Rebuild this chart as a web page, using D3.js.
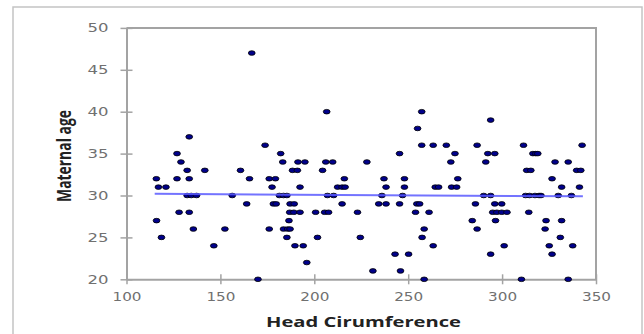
<!DOCTYPE html>
<html>
<head>
<meta charset="utf-8">
<script src="https://cdn.jsdelivr.net/npm/d3@7"></script>
<style>
  body { margin: 0; background: #fff; }
  svg { display: block; }
</style>
</head>
<body>
<svg id="chart" width="644" height="334"></svg>
<script>
// head circumference (x) and maternal age (y)
const headCirc = [
  115.9, 117, 121, 116, 118.6, 126.9, 129, 126.9, 128, 133.4, 132.3, 133.4, 132.3, 134.5, 137.3,
  133.4, 135.6, 141.7, 146.5, 152.4, 156.3, 160.7, 165.5, 164, 166.7, 170, 173.8, 176, 176, 177.5,
  179.3, 178.2, 179.7, 182.1, 183.2, 181.4, 183.6, 185.4, 183.6, 185.8, 187.1, 185.4, 186.5, 186.9,
  187.1, 189.3, 189.1, 188.4, 191.3, 191, 192.4, 192.4, 189.7, 194.1, 195, 196, 200.7, 201.7, 204.4,
  206.6, 206.1, 207, 205.5, 207.6, 209.8, 210.3, 212.4, 216, 214.8, 216.4, 214.8, 223, 224.5, 228,
  231.2, 234.3, 236, 237.1, 238.2, 238.2, 243, 245.4, 245.4, 245.9, 247, 248, 248, 250.2, 255,
  253.9, 254.6, 256.1, 257.2, 257.2, 257.4, 258.5, 258.5, 261.1, 263.3, 263.3, 264.4, 266.2, 270.3,
  272.7, 273.1, 274.9, 275.8, 276.4, 284.1, 285.8, 286.7, 286.7, 291.3, 290.2, 292.4, 293.9, 293.9,
  293.9, 295, 296.1, 296.1, 296.5, 297.2, 299.8, 299.8, 301.1, 302.6, 310.3, 311.4, 312.5, 313.1,
  315.3, 314.2, 314.6, 316.4, 317.9, 319, 317.5, 319.7, 320.7, 323.4, 322.9, 325.1, 326.6, 326.6,
  328.2, 329.9, 331, 331.7, 331.7, 335.2, 335.2, 336.9, 337.6, 339.7, 341.2, 341.9, 342.6
];
const maternalAge = [
  32, 31, 31, 27, 25, 35, 34, 32, 28, 37, 33, 32, 30, 30, 30,
  28, 26, 33, 24, 26, 30, 33, 32, 29, 47, 20, 36, 26, 32, 31,
  32, 29, 29, 35, 34, 30, 30, 30, 26, 26, 26, 25, 27, 28,
  29, 29, 28, 33, 34, 33, 31, 28, 24, 24, 34, 22, 28, 25, 33,
  40, 34, 30, 28, 28, 34, 30, 31, 32, 31, 31, 29, 28, 25, 34,
  21, 29, 30, 32, 31, 29, 23, 35, 29, 21, 30, 32, 31, 23, 38,
  28, 29, 29, 40, 36, 25, 26, 20, 28, 24, 36, 31, 31, 36,
  34, 31, 35, 31, 32, 27, 29, 36, 26, 34, 30, 35, 39, 30,
  23, 28, 35, 29, 27, 28, 29, 28, 24, 28, 20, 36, 30, 33,
  33, 28, 30, 35, 35, 35, 30, 30, 30, 27, 26, 24, 23, 32,
  34, 30, 25, 31, 27, 20, 34, 30, 24, 33, 31, 33, 36
];
// linear trendline end points
const trendX = [115, 343];
const trendY = [30.2, 29.9];

const xTicks = [100, 150, 200, 250, 300, 350];
const yTicks = [20, 25, 30, 35, 40, 45, 50];

const svg = d3.select("#chart");

// outer chart border
svg.append("rect")
  .attr("x", 13).attr("y", 7)
  .attr("width", 629).attr("height", 340)
  .attr("fill", "none")
  .attr("stroke", "#c4c4c4")
  .attr("stroke-width", 1.5);

const x = d3.scaleLinear().domain([100, 350]).range([126.5, 596]);
const y = d3.scaleLinear().domain([20, 50]).range([279.3, 27.9]);

// plot area frame (top and right)
svg.append("path")
  .attr("d", "M" + x(100) + "," + y(50) + "H" + x(350) + "V" + y(20))
  .attr("fill", "none")
  .attr("stroke", "#a3a3a3")
  .attr("stroke-width", 2);

// Y axis
const gy = svg.append("g")
  .attr("transform", "translate(" + x(100) + ",0)")
  .call(d3.axisLeft(y).tickValues(yTicks).tickSizeOuter(0));
gy.select(".domain").attr("stroke", "#a3a3a3").attr("stroke-width", 2);
gy.selectAll(".tick line").attr("x1", -6).attr("x2", 6)
  .attr("stroke", "#a3a3a3").attr("stroke-width", 1.5);
gy.selectAll(".tick text")
  .attr("x", -18)
  .attr("font-family", "DejaVu Sans")
  .attr("font-size", 12)
  .attr("fill", "#707070")
  .attr("textLength", 21)
  .attr("lengthAdjust", "spacingAndGlyphs");

// X axis
const gx = svg.append("g")
  .attr("transform", "translate(0," + y(20) + ")")
  .call(d3.axisBottom(x).tickValues(xTicks).tickSizeOuter(0));
gx.select(".domain").attr("stroke", "#a3a3a3").attr("stroke-width", 2);
gx.selectAll(".tick line").attr("y1", -5).attr("y2", 5)
  .attr("stroke", "#a3a3a3").attr("stroke-width", 1.5);
gx.selectAll(".tick text")
  .attr("y", 13)
  .attr("font-family", "DejaVu Sans")
  .attr("font-size", 12)
  .attr("fill", "#707070")
  .attr("textLength", 29)
  .attr("lengthAdjust", "spacingAndGlyphs");

// Points
const pts = d3.range(headCirc.length);
svg.append("g")
  .selectAll("ellipse")
  .data(pts)
  .enter()
  .append("ellipse")
  .attr("cx", function(i) { return x(headCirc[i]); })
  .attr("cy", function(i) { return y(maternalAge[i]); })
  .attr("rx", 3.4)
  .attr("ry", 2.3)
  .attr("fill", "#00008b")
  .attr("stroke", "#000")
  .attr("stroke-width", 0.8);

// Trendline
svg.append("line")
  .attr("x1", x(trendX[0])).attr("y1", y(trendY[0]))
  .attr("x2", x(trendX[1])).attr("y2", y(trendY[1]))
  .attr("stroke", "#5a5aff")
  .attr("stroke-opacity", 0.85)
  .attr("stroke-width", 2);

// axis titles
svg.append("text")
  .attr("x", 363.5).attr("y", 327)
  .attr("text-anchor", "middle")
  .attr("font-family", "Open Sans")
  .attr("font-weight", "bold")
  .attr("font-size", 14)
  .attr("fill", "#222")
  .attr("textLength", 195)
  .attr("lengthAdjust", "spacingAndGlyphs")
  .text("Head Cirumference");

svg.append("text")
  .attr("transform", "translate(71,156) scale(1.5,1) rotate(-90)")
  .attr("text-anchor", "middle")
  .attr("font-family", "Open Sans")
  .attr("font-weight", "bold")
  .attr("font-size", 13)
  .attr("fill", "#222")
  .attr("textLength", 92)
  .attr("lengthAdjust", "spacingAndGlyphs")
  .text("Maternal age");
</script>
</body>
</html>
